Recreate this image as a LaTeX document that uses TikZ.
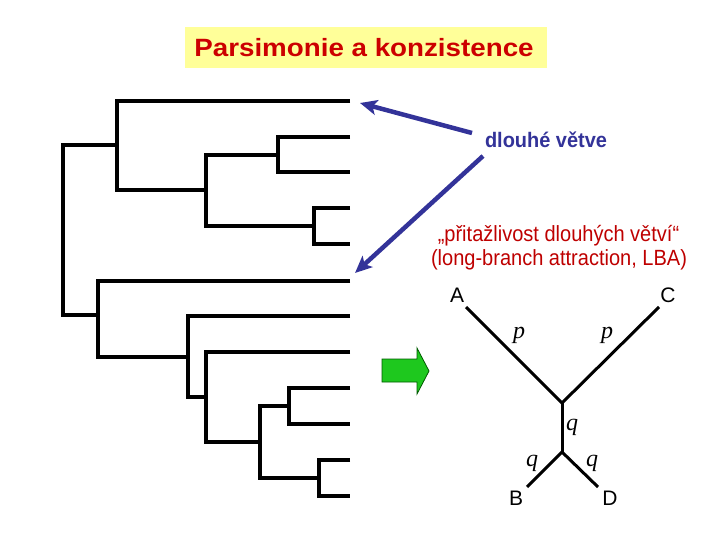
\documentclass[tikz,border=0pt]{standalone}
\usepackage{fontspec}
\setmainfont{Liberation Sans}
\newfontfamily\serifit{Liberation Serif}
\usetikzlibrary{arrows.meta}
\definecolor{titlered}{RGB}{204,0,0}
\definecolor{textred}{RGB}{190,0,0}
\definecolor{boxyellow}{RGB}{255,255,153}
\definecolor{arrowblue}{RGB}{51,51,153}
\definecolor{arrowgreen}{RGB}{30,200,30}
\definecolor{arrowgreenedge}{RGB}{0,90,0}
\tikzset{
  tree/.style={line width=3.3pt, line join=miter, black},
  small/.style={line width=3pt, line join=miter, black},
  bluearrow/.style={arrowblue, line width=4.5pt, -{Stealth[length=17pt,width=15pt,inset=4pt]}},
  lbl/.style={inner sep=0pt, anchor=base},
  tax/.style={inner sep=0pt, font=\fontsize{21}{24}\selectfont},
  par/.style={inner sep=0pt, font=\serifit\itshape\fontsize{24}{26}\selectfont},
}
\begin{document}
\begin{tikzpicture}[x=1pt,y=-1pt]
\useasboundingbox (0,0) rectangle (720,540);
% title
\node[fill=boxyellow, minimum width=362pt, minimum height=41pt, inner sep=0pt] (titlebox) at (366,47.5) {};
\node[lbl, text=titlered] (title) at (364,57) {\scalebox{1.11}[1]{\fontsize{25}{28}\selectfont\bfseries Parsimonie a konzistence}};
% left tree coordinates
\coordinate (R) at (63,230);
\coordinate (N1) at (117,145);
\coordinate (N2) at (206,190);
\coordinate (N3) at (278,155);
\coordinate (N4) at (314,226);
\coordinate (N5) at (98,315);
\coordinate (N6) at (188,357);
\coordinate (N7) at (206,397);
\coordinate (N8) at (260,442);
\coordinate (N9) at (289,406);
\coordinate (N10) at (319,478);
\foreach \i/\y in {1/101,2/137,3/172,4/208,5/244,6/281,7/316,8/352,9/388,10/424,11/460,12/496}
  \coordinate (L\i) at (350,\y);
\draw[tree] (N1) -| (R) |- (N5);
\draw[tree] (L1) -| (N1) |- (N2);
\draw[tree] (N3) -| (N2) |- (N4);
\draw[tree] (L2) -| (N3) |- (L3);
\draw[tree] (L4) -| (N4) |- (L5);
\draw[tree] (L6) -| (N5) |- (N6);
\draw[tree] (L7) -| (N6) |- (N7);
\draw[tree] (L8) -| (N7) |- (N8);
\draw[tree] (N9) -| (N8) |- (N10);
\draw[tree] (L9) -| (N9) |- (L10);
\draw[tree] (L11) -| (N10) |- (L12);
% labels
\node[lbl, text=arrowblue] (longb) at (546,148) {\scalebox{0.95}[1]{\fontsize{21}{24}\selectfont\bfseries dlouhé větve}};
\node[lbl, text=textred] (lba1) at (558.5,241) {\scalebox{0.91}[1]{\fontsize{22}{24}\selectfont „přitažlivost dlouhých větví“}};
\node[lbl, text=textred] (lba2) at (559,265) {\scalebox{0.91}[1]{\fontsize{22}{24}\selectfont (long-branch attraction, LBA)}};
% blue arrows
\coordinate (t1) at (472,133);
\coordinate (h1) at (360,103);
\coordinate (t2) at (483,156);
\coordinate (h2) at (355,273);
\draw[bluearrow] (t1) -- (h1);
\draw[bluearrow] (t2) -- (h2);
% green arrow
\draw[fill=arrowgreen, draw=arrowgreenedge, line width=0.8pt, line join=miter]
  (382,359) coordinate (g1) -- (417,359) -- (417,348) -- (429,371) coordinate (gtip) -- (417,394) -- (417,382) -- (382,382) -- cycle;
% right tree
\coordinate (c) at (562,403);
\coordinate (j) at (562,452);
\coordinate (ea) at (466,307);
\coordinate (ec) at (659,307);
\coordinate (eb) at (527,487);
\coordinate (ed) at (598,487);
\draw[small] (ea) -- (c) -- (ec);
\draw[small] (c) -- (j);
\draw[small] (eb) -- (j) -- (ed);
\node[tax] (A) at (457,295) {A};
\node[tax] (C) at (668,295) {C};
\node[tax] (B) at (516,498) {B};
\node[tax] (D) at (610,498) {D};
\node[par] (p1) at (519,335) {p};
\node[par] (p2) at (607,335) {p};
\node[par] (q1) at (572,427) {q};
\node[par] (q2) at (532,463) {q};
\node[par] (q3) at (592,463) {q};
\end{tikzpicture}
\end{document}
